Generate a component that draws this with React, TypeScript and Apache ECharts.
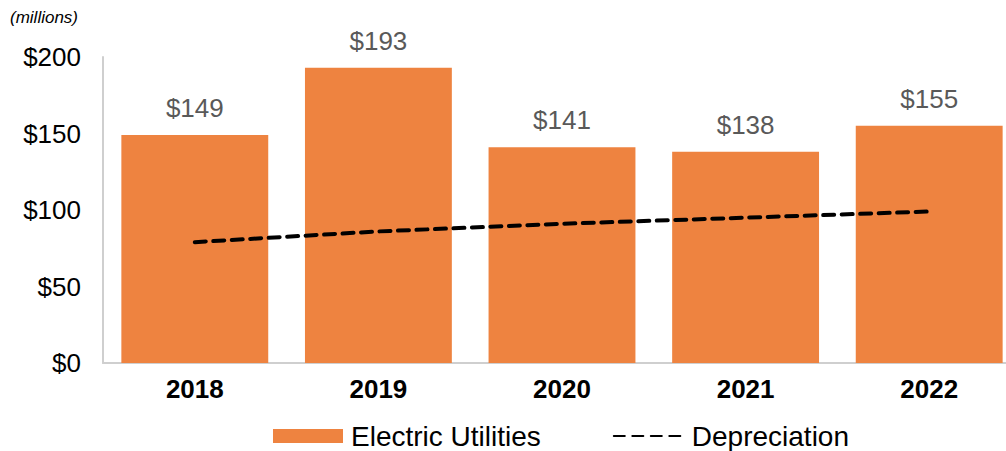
import React, { useEffect, useRef } from "react";
import * as echarts from "echarts";

const categories = ["2018", "2019", "2020", "2021", "2022"];
const electricUtilities = [149, 193, 141, 138, 155];
const depreciation = [79, 86, 91, 95, 99];
const yTicks = { min: 0, max: 200, interval: 50 };

export default function App() {
  const ref = useRef<HTMLDivElement>(null);
  useEffect(() => {
    if (!ref.current) return;
    const chart = echarts.init(ref.current, null, { renderer: "svg" });
    const font = "Arial, 'Liberation Sans', sans-serif";
    chart.setOption({
      animation: false,
      textStyle: { fontFamily: font },
      graphic: [
        {
          type: "text",
          x: 10,
          y: 17,
          style: {
            text: "(millions)",
            font: `italic 17px ${font}`,
            fill: "#000",
            verticalAlign: "middle",
          },
        },
      ],
      legend: {
        left: 273,
        top: 422,
        padding: 0,
        itemWidth: 70,
        itemHeight: 14,
        itemGap: 72,
        textStyle: { fontSize: 28, color: "#000", fontFamily: font, padding: [0, 0, 0, 3] },
        data: [
          { name: "Electric Utilities", icon: "rect" },
          { name: "Depreciation", itemStyle: { opacity: 0 } },
        ],
      },
      grid: { left: 103, top: 57, bottom: 88, right: 0, containLabel: false },
      xAxis: {
        type: "category",
        data: categories,
        axisLine: { lineStyle: { color: "#cfcfcf", width: 2 } },
        axisTick: { show: false },
        axisLabel: { fontSize: 26, fontWeight: "bold", color: "#000", margin: 13, fontFamily: font },
      },
      yAxis: {
        type: "value",
        min: yTicks.min,
        max: yTicks.max,
        interval: yTicks.interval,
        axisLine: { show: true, lineStyle: { color: "#cfcfcf", width: 2 } },
        axisTick: { show: false },
        splitLine: { show: false },
        axisLabel: {
          fontSize: 26,
          color: "#000",
          margin: 22,
          fontFamily: font,
          formatter: (v: number) => "$" + v,
        },
      },
      series: [
        {
          name: "Electric Utilities",
          type: "bar",
          data: electricUtilities,
          barCategoryGap: "20%",
          itemStyle: { color: "#EE8340" },
          label: {
            show: true,
            position: "top",
            distance: 14,
            fontSize: 26,
            color: "#595959",
            fontFamily: font,
            formatter: (p: any) => "$" + p.value,
          },
        },
        {
          name: "Depreciation",
          type: "line",
          data: depreciation,
          symbol: "none",
          lineStyle: { color: "#000", width: 4, type: [11, 7.5], cap: "round" },
          itemStyle: { color: "#000" },
          z: 5,
        },
      ],
    });
    return () => chart.dispose();
  }, []);
  return (
    <div
      ref={ref}
      style={{ position: "fixed", left: 0, top: 0, width: 1021, height: 451, background: "#fff" }}
    />
  );
}
